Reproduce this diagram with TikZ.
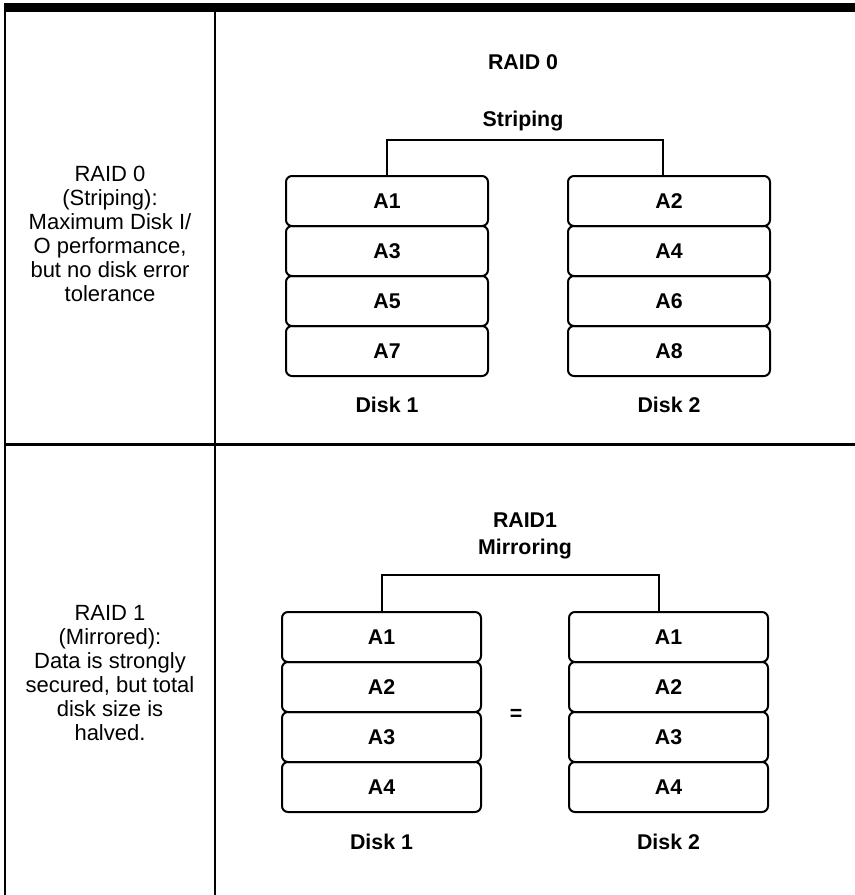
\documentclass[tikz,border=0pt]{standalone}
\usepackage{fontspec}
\setmainfont{Liberation Sans}
\begin{document}
\begin{tikzpicture}[x=0.75pt,y=-0.75pt,
  cell/.style={draw,line width=1.5pt,rounded corners=4.5pt,font=\fontsize{16}{18}\selectfont\bfseries,inner sep=0pt},
  cellA/.style={cell,minimum width=151.5pt,minimum height=37.5pt},
  cellB/.style={cell,minimum width=149.25pt,minimum height=37.5pt},
  lbl/.style={font=\fontsize{16}{18}\selectfont\bfseries,inner sep=0pt},
  desc/.style={align=center,font=\fontsize{16.5}{18}\selectfont,inner sep=0pt},
  rule/.style={line width=1.9pt},
  conn/.style={line width=1.5pt}]
\useasboundingbox (0,0) rectangle (855,895);
% frame
\fill (4,3) rectangle (855,12);
\draw[rule] (5,12) -- (5,895);
\draw[rule] (215,12) -- (215,895);
\draw[rule] (5,444.5) -- (855,444.5);
% left descriptions
\node[desc] (t0) at (110,234) {RAID 0\\(Striping):\\Maximum Disk I/\\O performance,\\but no disk error\\tolerance};
\node[desc] (t1) at (110,673) {RAID 1\\(Mirrored):\\Data is strongly\\secured, but total\\disk size is\\halved.};
% RAID 0
\node[lbl] (r0title) at (523,62) {RAID 0};
\node[lbl] (r0sub) at (523,121) {Striping};
\node[cellA] (a1) at (387,201) {A1};
\node[cellA] (a3) at (387,251) {A3};
\node[cellA] (a5) at (387,301) {A5};
\node[cellA] (a7) at (387,351) {A7};
\node[cellA] (a2) at (669,201) {A2};
\node[cellA] (a4) at (669,251) {A4};
\node[cellA] (a6) at (669,301) {A6};
\node[cellA] (a8) at (669,351) {A8};
\node[lbl] (d01) at (387,405) {Disk 1};
\node[lbl] (d02) at (669,405) {Disk 2};
\draw[conn] (a1.north) -- ++(0,-35) -| ([xshift=-4.5pt]a2.north);
% RAID 1
\node[lbl] (r1title) at (525,520) {RAID1};
\node[lbl] (r1sub) at (525,549) {Mirroring};
\node[cellB] (b1) at (381.5,637) {A1};
\node[cellB] (b2) at (381.5,687) {A2};
\node[cellB] (b3) at (381.5,737) {A3};
\node[cellB] (b4) at (381.5,787) {A4};
\node[cellB] (c1) at (668.5,637) {A1};
\node[cellB] (c2) at (668.5,687) {A2};
\node[cellB] (c3) at (668.5,737) {A3};
\node[cellB] (c4) at (668.5,787) {A4};
\node[lbl] (eq) at (516,715) {=};
\node[lbl] (d11) at (381.5,842) {Disk 1};
\node[lbl] (d12) at (668.5,842) {Disk 2};
\draw[conn] (b1.north) -- ++(0,-36) -| ([xshift=-7.5pt]c1.north);
\end{tikzpicture}
\end{document}
